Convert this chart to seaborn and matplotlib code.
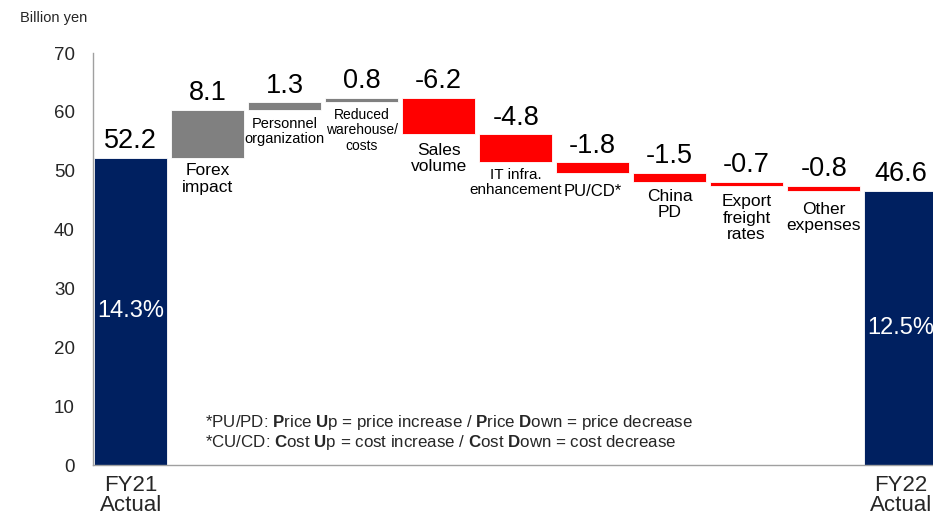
import numpy as np
import pandas as pd
import matplotlib
matplotlib.use("Agg")
import matplotlib.pyplot as plt
import seaborn as sns

# ---- data ----
categories = ["FY21\nActual", "Forex\nimpact", "Personnel\norganization",
              "Reduced\nwarehouse/\ncosts", "Sales\nvolume", "IT infra.\nenhancement",
              "PU/CD*", "China\nPD", "Export\nfreight\nrates", "Other\nexpenses",
              "FY22\nActual"]
changes = [52.2, 8.1, 1.3, 0.8, -6.2, -4.8, -1.8, -1.5, -0.7, -0.8, 46.6]
kinds = ["total", "up", "up", "up", "down", "down", "down", "down", "down", "down", "total"]
margins = ["14.3%", "12.5%"]
yticks = [0, 10, 20, 30, 40, 50, 60, 70]
unit_label = "Billion yen"
footnotes = [r"*PU/PD: $\mathbf{P}$rice $\mathbf{U}$p = price increase / $\mathbf{P}$rice $\mathbf{D}$own = price decrease",
             r"*CU/CD: $\mathbf{C}$ost $\mathbf{U}$p = cost increase / $\mathbf{C}$ost $\mathbf{D}$own = cost decrease"]

# ---- styling ----
sns.set_style("white")
plt.rcParams["font.family"] = ["Liberation Sans", "DejaVu Sans"]
plt.rcParams["mathtext.fontset"] = "custom"
plt.rcParams["mathtext.rm"] = "Liberation Sans"
plt.rcParams["mathtext.bf"] = "Liberation Sans:bold"

colors = {"total": "#002060", "up": "#808080", "down": "#FF0000"}
label_sizes = [12.5, 12.5, 10.5, 10, 12.5, 11, 12, 12.5, 12.5, 12.5, 12.5]
label_offsets = [-5, -4, -5, -4, -6, -4, -8, -5, -6, -8, -5]

# waterfall geometry derived from data
bottoms, heights, tops, lows = [], [], [], []
running = 0.0
for v, k in zip(changes, kinds):
    if k == "total":
        b, h = 0.0, v
        running = v
    else:
        start = running
        running = running + v
        b, h = min(start, running), abs(v)
    bottoms.append(b)
    heights.append(h)
    tops.append(b + h)
    lows.append(b)

df = pd.DataFrame({"category": categories, "height": heights})

fig = plt.figure(figsize=(9.33, 5.16), dpi=100)
ax = fig.add_axes([93 / 933, 51 / 516, 1 - 93 / 933, (465 - 53) / 516])

sns.barplot(data=df, x="category", y="height", order=categories,
            bottom=np.array(bottoms), width=0.95, color="#808080",
            edgecolor="white", linewidth=0.6, ax=ax)
for patch, k in zip(ax.patches, kinds):
    patch.set_facecolor(colors[k])

ax.set_xlim(-0.49, 10.42)
ax.set_ylim(0, 70)
ax.set_yticks(yticks)
ax.set_yticklabels([str(t) for t in yticks], fontsize=13.5)
ax.tick_params(axis="y", length=0, pad=13)
ax.set_xticks([0, 10])
ax.set_xticklabels([categories[0], categories[-1]], fontsize=16, linespacing=0.95)
ax.tick_params(axis="x", length=0, pad=7)
ax.set_xlabel("")
ax.set_ylabel("")
for s in ["top", "right"]:
    ax.spines[s].set_visible(False)
for s in ["left", "bottom"]:
    ax.spines[s].set_color("#A0A0A0")
    ax.spines[s].set_linewidth(1.0)

# value labels and category labels
for i, (v, k) in enumerate(zip(changes, kinds)):
    ax.annotate(f"{v:.1f}", (i, tops[i]), xytext=(0, 7), textcoords="offset points",
                ha="center", va="baseline", fontsize=19.5, color="black")
    if k != "total":
        ax.annotate(categories[i], (i, lows[i]), xytext=(0, label_offsets[i]),
                    textcoords="offset points", ha="center", va="top",
                    fontsize=label_sizes[i], linespacing=1.12, color="black")

# margin labels inside total bars
total_idx = [i for i, k in enumerate(kinds) if k == "total"]
for i, m in zip(total_idx, margins):
    ax.text(i, heights[i] / 2, m, ha="center", va="center", fontsize=17, color="white")

fig.text(20 / 933, 1 - 18 / 516, unit_label, ha="left", va="center", fontsize=10.5)
fig.text(205 / 933, 1 - 423 / 516, footnotes[0], ha="left", va="center", fontsize=12.2)
fig.text(205 / 933, 1 - 443 / 516, footnotes[1], ha="left", va="center", fontsize=12.2)

fig.savefig("out.png", dpi=100)
